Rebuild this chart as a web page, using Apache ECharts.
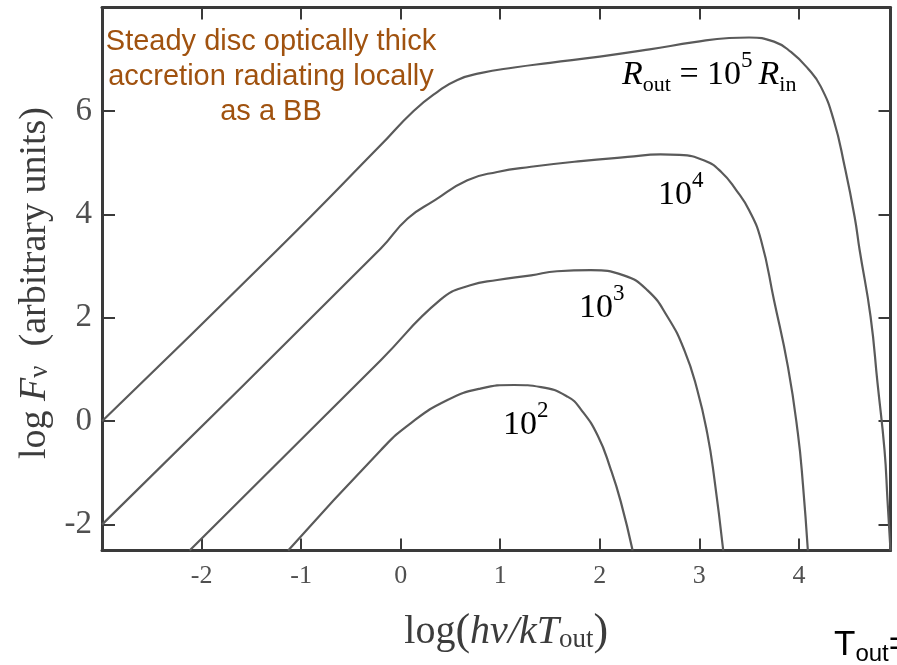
<!DOCTYPE html>
<html>
<head>
<meta charset="utf-8">
<script src="https://cdn.jsdelivr.net/npm/echarts@6/dist/echarts.min.js"></script>
<style>
  html, body { margin: 0; padding: 0; background: #ffffff; }
  #chart { width: 897px; height: 665px; }
</style>
</head>
<body>
<div id="chart"></div>
<script>
// Spectra of a steady, optically thick disc (log F_nu vs log(h nu / k T_out))
// for several outer radii R_out / R_in.

const xTicks = [-2, -1, 0, 1, 2, 3, 4];
const yTicks = [-2, 0, 2, 4, 6];

// R_out = 1e5 R_in
const disc1e5 = [
  [-3.00, 0.00], [-1.24, 3.31], [-0.20, 5.34], [0.13, 6.00], [0.37, 6.37],
  [0.57, 6.60], [0.80, 6.73], [1.14, 6.84], [1.50, 6.93], [2.00, 7.05],
  [2.50, 7.19], [2.95, 7.33], [3.30, 7.41], [3.50, 7.42], [3.75, 7.34],
  [3.92, 7.14], [4.09, 6.82], [4.22, 6.47], [4.35, 5.82], [4.46, 4.92],
  [4.56, 3.95], [4.61, 3.31], [4.72, 2.02], [4.79, 0.73], [4.86, -0.56],
  [4.89, -1.53], [4.92, -2.50]
];
// R_out = 1e4 R_in
const disc1e4 = [
  [-3.00, -2.00], [-0.20, 3.34], [0.07, 3.92], [0.34, 4.27], [0.67, 4.66],
  [0.97, 4.82], [1.31, 4.92], [1.81, 5.03], [2.28, 5.11], [2.61, 5.16],
  [2.80, 5.15], [3.05, 5.04], [3.22, 4.82], [3.37, 4.47], [3.50, 4.08],
  [3.62, 3.50], [3.75, 2.34], [3.89, 1.05], [3.99, -0.24], [4.04, -1.21],
  [4.09, -2.50]
];
// R_out = 1e3 R_in
const disc1e3 = [
  [-2.12, -2.50], [-0.20, 1.18], [0.40, 2.35], [0.70, 2.63], [0.97, 2.73],
  [1.31, 2.82], [1.57, 2.90], [1.91, 2.92], [2.24, 2.82], [2.48, 2.53],
  [2.68, 2.02], [2.85, 1.37], [2.98, 0.60], [3.08, -0.24], [3.15, -1.10],
  [3.24, -2.50]
];
// R_out = 1e2 R_in
const disc1e2 = [
  [-1.13, -2.50], [-0.20, -0.56], [0.10, -0.04], [0.47, 0.41], [0.80, 0.63],
  [1.14, 0.70], [1.41, 0.66], [1.68, 0.47], [1.81, 0.23], [1.98, -0.28],
  [2.11, -0.93], [2.21, -1.55], [2.33, -2.50]
];

const serif = '"Liberation Serif", "Times New Roman", serif';
const sans = '"Liberation Sans", Arial, sans-serif';
const ink = '#3c3c3c';
const curveColor = '#5a5a5a';
const frameColor = '#3a3a3a';

const chart = echarts.init(document.getElementById('chart'), null, { renderer: 'canvas' });

function frameAxis(extra) {
  return Object.assign({
    type: 'value',
    axisLine: { show: true, onZero: false, lineStyle: { color: frameColor, width: 3 } },
    axisTick: { show: true, inside: true, length: 12, lineStyle: { color: frameColor, width: 2 } },
    splitLine: { show: false },
    axisLabel: { show: false }
  }, extra);
}

const curveText = { fontFamily: serif, fontSize: 34, color: '#505050' };
const supStyle = { fontFamily: serif, fontSize: 23, color: '#505050', padding: [0, 0, 30, 0] };
const subStyle = { fontFamily: serif, fontSize: 22, color: '#505050', padding: [20, 0, 0, 0] };

function curveLabel(x, y, text) {
  return {
    type: 'text', x: x, y: y, z: 10,
    style: {
      text: text, align: 'left', verticalAlign: 'middle',
      rich: {
        n: curveText,
        i: Object.assign({}, curveText, { fontStyle: 'italic' }),
        sp: Object.assign({}, supStyle, { padding: [0, 6, 30, 0] }),
        sp0: supStyle,
        sb: subStyle
      }
    }
  };
}

const option = {
  animation: false,
  backgroundColor: '#ffffff',
  grid: { left: 102, top: 7.5, right: 6.5, bottom: 114.5, containLabel: false, outerBoundsMode: 'none' },
  xAxis: [
    frameAxis({
      position: 'bottom', min: -3, max: 4.92,
      axisTick: { show: true, inside: true, length: 12, customValues: xTicks, lineStyle: { color: frameColor, width: 2 } },
      axisLabel: { show: true, customValues: xTicks, margin: 13, fontFamily: serif, fontSize: 26, color: '#505050' },
      name: '{n|log}{p|(}{i|hν/kT}{sb|out}{p|)}',
      nameLocation: 'middle', nameGap: 60,
      nameTextStyle: {
        padding: [0, 0, 0, 20],
        rich: {
          n: { fontFamily: serif, fontSize: 40, color: ink },
          p: { fontFamily: serif, fontSize: 44, color: ink },
          i: { fontFamily: serif, fontSize: 40, fontStyle: 'italic', color: ink },
          sb: { fontFamily: serif, fontSize: 27, color: ink, padding: [14, 0, 0, 0] }
        }
      }
    }),
    frameAxis({
      position: 'top', min: -3, max: 4.92,
      axisTick: { show: true, inside: true, length: 12, customValues: xTicks, lineStyle: { color: frameColor, width: 2 } }
    })
  ],
  yAxis: [
    frameAxis({
      position: 'left', min: -2.5, max: 8,
      axisTick: { show: true, inside: true, length: 13, customValues: yTicks, lineStyle: { color: frameColor, width: 2 } },
      axisLabel: { show: true, customValues: yTicks, margin: 10, fontFamily: serif, fontSize: 33, color: '#505050' },
      name: '{n|log }{i|F}{sb|ν}{n|  (arbitrary units)}',
      nameLocation: 'middle', nameGap: 44, nameRotate: 90,
      nameTextStyle: {
        padding: [0, 8, 0, 0],
        rich: {
          n: { fontFamily: serif, fontSize: 38, color: ink },
          i: { fontFamily: serif, fontSize: 38, fontStyle: 'italic', color: ink },
          sb: { fontFamily: serif, fontSize: 27, color: ink, padding: [10, 0, 0, 0] }
        }
      }
    }),
    frameAxis({
      position: 'right', min: -2.5, max: 8,
      axisTick: { show: true, inside: true, length: 12, customValues: yTicks, lineStyle: { color: frameColor, width: 2 } }
    })
  ],
  series: [disc1e5, disc1e4, disc1e3, disc1e2].map(function (pts) {
    return {
      type: 'line', data: pts, xAxisIndex: 0, yAxisIndex: 0,
      showSymbol: false, smooth: 0.5, clip: true,
      lineStyle: { color: curveColor, width: 2.2 }
    };
  }),
  graphic: [
    {
      type: 'text', x: 271, y: 24.5, z: 10,
      style: {
        text: 'Steady disc optically thick\naccretion radiating locally\nas a BB',
        align: 'center', verticalAlign: 'top',
        fontFamily: sans, fontSize: 29, lineHeight: 35, fill: '#A0520F'
      }
    },
    curveLabel(622, 75.5, '{i|R}{sb|out}{n| = 10}{sp|5}{i|R}{sb|in}'),
    curveLabel(658, 195.5, '{n|10}{sp0|4}'),
    curveLabel(579, 308.5, '{n|10}{sp0|3}'),
    curveLabel(503, 425.5, '{n|10}{sp0|2}'),
    {
      type: 'text', x: 834, y: 645, z: 10,
      style: {
        text: '{t|T}{s|out}{t|=}', align: 'left', verticalAlign: 'middle',
        rich: {
          t: { fontFamily: sans, fontSize: 35, color: '#404040' },
          s: { fontFamily: sans, fontSize: 24, color: '#404040', padding: [19, 0, 0, 0] }
        }
      }
    }
  ]
};

chart.setOption(option);
</script>
</body>
</html>
